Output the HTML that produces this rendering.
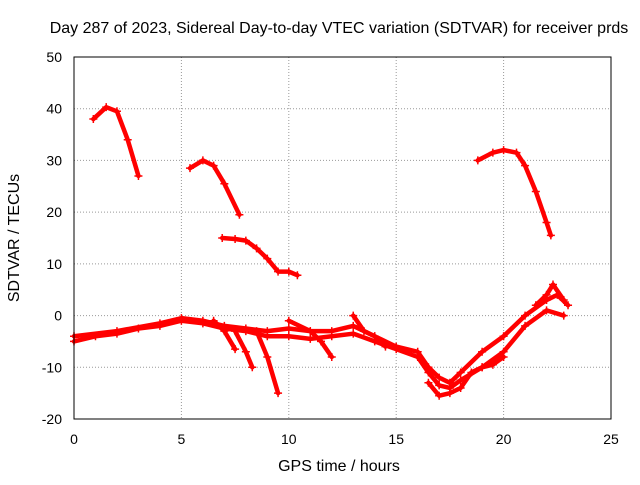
<!DOCTYPE html>
<html><head><meta charset="utf-8"><style>
body{margin:0;background:#fff}
svg text{font-family:"Liberation Sans",sans-serif;fill:#000}
</style></head><body>
<svg id="chart" width="640" height="480">
<text x="339" y="33" font-size="16" text-anchor="middle">Day 287 of 2023, Sidereal Day-to-day VTEC variation (SDTVAR) for receiver prds</text>
<text x="339" y="471" font-size="16" text-anchor="middle">GPS time / hours</text>
<text transform="translate(19,238) rotate(-90)" font-size="16" text-anchor="middle">SDTVAR / TECUs</text>
<g id="grid"></g><g id="ticks"></g><g id="series"></g>
<rect x="74" y="57" width="537" height="362" fill="none" stroke="#000"/>
</svg>
<script>
const xTicks=[0,5,10,15,20,25];
const yTicks=[-20,-10,0,10,20,30,40,50];
const arc1=[[0.9,38],[1.5,40.3],[2,39.5],[2.5,34],[3,27]];
const arc2=[[5.4,28.5],[6,30],[6.5,29],[7,25.5],[7.7,19.5]];
const arc3=[[6.9,15],[7.5,14.8],[8,14.5],[8.5,13],[9,11],[9.5,8.5],[10,8.5],[10.4,7.8]];
const arc4=[[18.8,30],[19.5,31.5],[20,32],[20.6,31.5],[21,29],[21.5,24],[22,18],[22.2,15.5]];
const low1=[[0,-5],[1,-4],[2,-3.5],[3,-2.5],[4,-2],[5,-1],[6,-1.5],[7,-2.5],[8,-3],[9,-4],[10,-4],[11,-4.5],[12,-4],[13,-3.5],[14,-5],[15,-6.5],[16,-8],[16.5,-11],[17,-13.5],[17.5,-14],[18,-12.5],[19,-10],[20,-7],[21,-2],[22,1],[22.8,0]];
const low2=[[0,-4],[2,-3],[4,-1.5],[5,-0.5],[6,-1],[7,-2],[8,-2.5],[9,-3],[10,-2.5],[11,-3],[12,-3],[13,-2],[14,-4],[15,-6],[16,-7],[16.5,-10],[17,-12],[17.5,-13],[18,-11],[19,-7],[20,-4],[21,0],[22,3],[22.5,4],[23,2]];
const low3=[[16.5,-13],[17,-15.5],[17.5,-15],[18,-14],[18.5,-11],[19,-10],[19.5,-9.5],[20,-8]];
const drop1=[[6.5,-1],[7,-3],[7.5,-6.5]];
const drop2=[[7.5,-3],[8,-7],[8.3,-10]];
const drop3=[[8.5,-3],[9,-8],[9.5,-15]];
const drop4=[[10,-1],[11,-3],[11.5,-5],[12,-8]];
const drop5=[[13,0],[13.5,-3],[14,-4],[14.5,-6]];
const up5=[[21.5,2],[22,4],[22.3,6],[22.8,3]];
const series=[arc1,arc2,arc3,arc4,low1,low2,low3,drop1,drop2,drop3,drop4,drop5,up5];
const X=v=>74+v*537/25, Y=v=>419-(v+20)*362/70;
const NS="http://www.w3.org/2000/svg";
const g=document.getElementById('grid'),t=document.getElementById('ticks'),s=document.getElementById('series');
function mk(tag,attrs,par){const e=document.createElementNS(NS,tag);for(const k in attrs)e.setAttribute(k,attrs[k]);par.appendChild(e);return e;}
xTicks.forEach(v=>{
 if(v>0&&v<25){const l=mk('line',{x1:X(v),x2:X(v),y1:57,y2:419,stroke:'#999','stroke-dasharray':'1,2'},g);
 
 }
 const tx=mk('text',{x:X(v),y:444,'font-size':14,'text-anchor':'middle'},t);tx.textContent=v;
 
 
});
yTicks.forEach(v=>{
 if(v>-20&&v<50){const l=mk('line',{x1:74,x2:611,y1:Y(v),y2:Y(v),stroke:'#999','stroke-dasharray':'1,2'},g);
 
 }
 const tx=mk('text',{x:62,y:Y(v)+5,'font-size':14,'text-anchor':'end'},t);tx.textContent=v;
 
 
});
series.forEach((d,i)=>{
 const p=mk('polyline',{points:d.map(q=>X(q[0])+','+Y(q[1])).join(' '),fill:'none',stroke:'#f00','stroke-width':4.5,'stroke-linejoin':'round','stroke-linecap':'round'},s);
 
 
 d.forEach(q=>{const m=mk('path',{d:`M${X(q[0])-4},${Y(q[1])}h8M${X(q[0])},${Y(q[1])-4}v8`,stroke:'#f00','stroke-width':1.5},s);
 
 });
});
</script>
</body></html>
